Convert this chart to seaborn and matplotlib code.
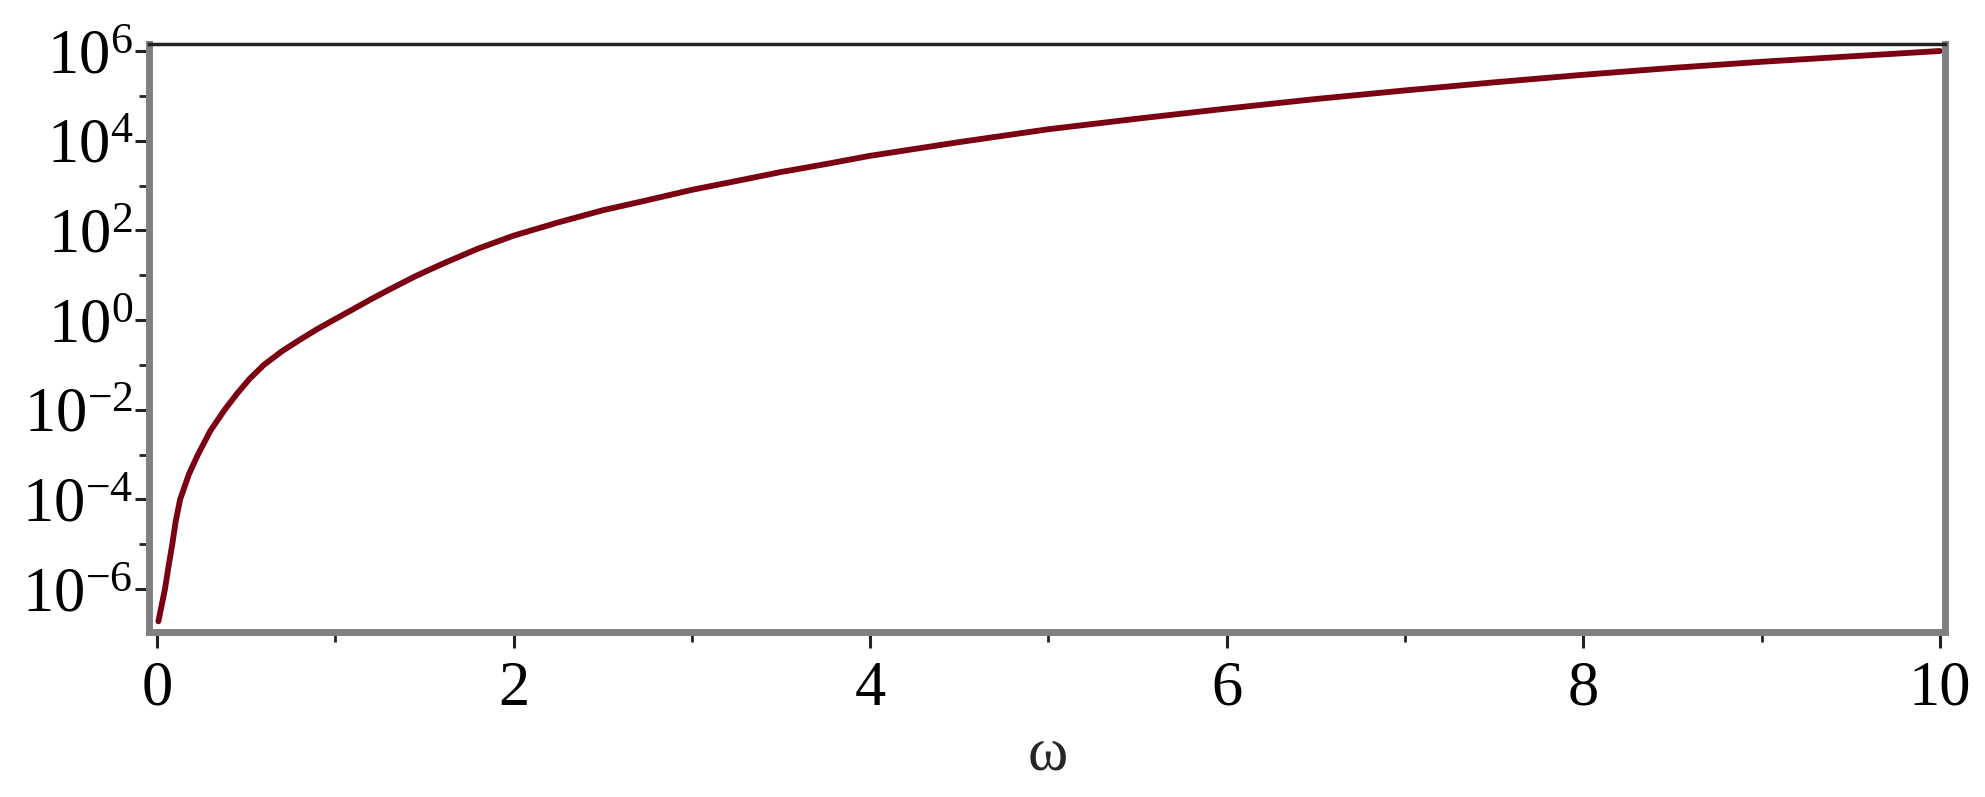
import matplotlib
matplotlib.use("Agg")
import matplotlib.pyplot as plt
import matplotlib.ticker as mticker
import seaborn as sns

# values (omega, magnitude on log axis)
omega = [0.008, 0.045, 0.065, 0.086, 0.105, 0.13, 0.18, 0.23, 0.3, 0.38,
         0.45, 0.52, 0.6, 0.7, 0.8, 0.9, 1.0, 1.1, 1.2, 1.3,
         1.45, 1.6, 1.8, 2.0, 2.25, 2.5, 2.75, 3.0, 3.25, 3.5,
         3.75, 4.0, 4.5, 5.0, 5.5, 6.0, 6.5, 7.0, 7.5, 8.0,
         8.5, 9.0, 9.5, 10.0]
magnitude = [1.9e-7, 1.0e-6, 3.2e-6, 1.0e-5, 3.2e-5, 1.0e-4, 3.7e-4, 1.0e-3, 3.4e-3, 1.0e-2,
             2.3e-2, 4.9e-2, 0.1, 0.2, 0.36, 0.63, 1.05, 1.74, 2.9, 4.7,
             9.5, 17.8, 39, 76, 150, 280, 470, 800, 1260, 2000,
             3000, 4600, 9300, 1.8e4, 3.1e4, 5.2e4, 8.5e4, 1.32e5, 2.0e5, 2.95e5,
             4.2e5, 5.75e5, 7.6e5, 1.0e6]

x_major = [0, 2, 4, 6, 8, 10]
x_minor = [1, 3, 5, 7, 9]
y_major_exp = [-6, -4, -2, 0, 2, 4, 6]
y_minor_exp = [-5, -3, -1, 1, 3, 5]

sns.set_style("white")
plt.rcParams["font.family"] = ["Liberation Serif", "DejaVu Serif"]
plt.rcParams["mathtext.fontset"] = "custom"
plt.rcParams["mathtext.rm"] = "Liberation Serif"
plt.rcParams["mathtext.it"] = "Liberation Serif:italic"

fig = plt.figure(figsize=(19.85, 7.97), dpi=100)
ax = fig.add_axes([0.0753, 0.2064, 0.9801 - 0.0753, 0.9454 - 0.2064])

sns.lineplot(x=omega, y=magnitude, ax=ax, color="#7a0012", linewidth=4.2)

ax.set_yscale("log")
ax.set_xlim(-0.042, 10.031)
ax.set_ylim(10 ** -6.97, 10 ** 6.167)

ax.xaxis.set_major_locator(mticker.FixedLocator(x_major))
ax.xaxis.set_minor_locator(mticker.FixedLocator(x_minor))
ax.set_xticklabels([str(v) for v in x_major])

ax.yaxis.set_major_locator(mticker.FixedLocator([10.0 ** e for e in y_major_exp]))
ax.yaxis.set_minor_locator(mticker.FixedLocator([10.0 ** e for e in y_minor_exp]))
ax.yaxis.set_minor_formatter(mticker.NullFormatter())
ax.set_yticklabels([r"$\mathdefault{10^{%d}}$" % e for e in y_major_exp])

ax.tick_params(axis="both", which="both", bottom=True, left=True,
               top=False, right=False, direction="out", colors="#222222")
ax.tick_params(axis="both", which="major", labelsize=45, width=2.2)
ax.tick_params(axis="both", which="minor", width=2.0, length=7)
ax.tick_params(axis="y", which="major", length=10, pad=2)
ax.tick_params(axis="x", which="major", length=11.5, pad=9)
ax.tick_params(axis="both", which="both", labelcolor="black")

for side in ["left", "bottom", "right"]:
    ax.spines[side].set_color("#808080")
    ax.spines[side].set_linewidth(5)
ax.spines["top"].set_color("#222222")
ax.spines["top"].set_linewidth(2.5)

ax.set_xlabel("ω", fontsize=44, labelpad=6)
ax.set_ylabel("")

fig.savefig("out.png", dpi=100, facecolor="white")
